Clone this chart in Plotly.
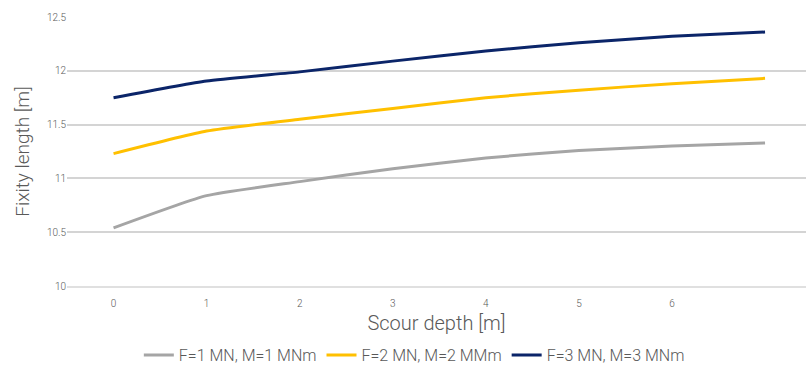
import plotly.graph_objects as go

scour_depth = [0, 1, 2, 3, 4, 5, 6, 7]
tick_vals = [0, 1, 2, 3, 4, 5, 6]
f1 = [10.54, 10.84, 10.97, 11.09, 11.19, 11.26, 11.30, 11.33]
f2 = [11.23, 11.44, 11.55, 11.65, 11.75, 11.82, 11.88, 11.93]
f3 = [11.75, 11.905, 11.99, 12.09, 12.185, 12.26, 12.32, 12.36]
names = ["F=1 MN, M=1 MNm", "F=2 MN, M=2 MMm", "F=3 MN, M=3 MNm"]
colors = ["#a5a5a5", "#ffc000", "#0b2569"]

fig = go.Figure()
for ys, n, c in zip([f1, f2, f3], names, colors):
    fig.add_trace(go.Scatter(x=scour_depth, y=ys, name=n, mode="lines",
                             line=dict(color=c, width=3, shape="spline", smoothing=0.5)))

fig.update_layout(
    width=806, height=374,
    margin=dict(l=67, r=0, t=17, b=88),
    paper_bgcolor="white", plot_bgcolor="white",
    font=dict(family="Roboto", color="#595959", weight=300),
    xaxis=dict(range=[-0.5, 7.44], tickvals=tick_vals, showgrid=False,
               showline=True, linecolor="#e0e0e0", linewidth=1.5,
               zeroline=False, ticks="", ticklabelstandoff=7,
               tickfont=dict(size=10, color="#595959", weight=300),
               title=dict(text="Scour depth [m]", font=dict(size=20, color="#595959", weight=300), standoff=8)),
    yaxis=dict(range=[10, 12.5], showgrid=True, gridcolor="#d4d4d4", gridwidth=1.5,
               zeroline=False, showline=False, ticks="",
               tickvals=[10, 10.5, 11, 11.5, 12, 12.5],
               ticktext=["10", "10.5", "11", "11.5", "12", "12.5"],
               tickfont=dict(size=10, color="#595959", weight=300),
               title=dict(text="Fixity length [m]", font=dict(size=19, color="#595959", weight=300), standoff=12)),
    legend=dict(orientation="h", x=0.47, xanchor="center", y=-0.2565, yanchor="middle",
                font=dict(size=16, color="#595959", weight=300), itemwidth=30),
)
fig.write_html("out.html")
